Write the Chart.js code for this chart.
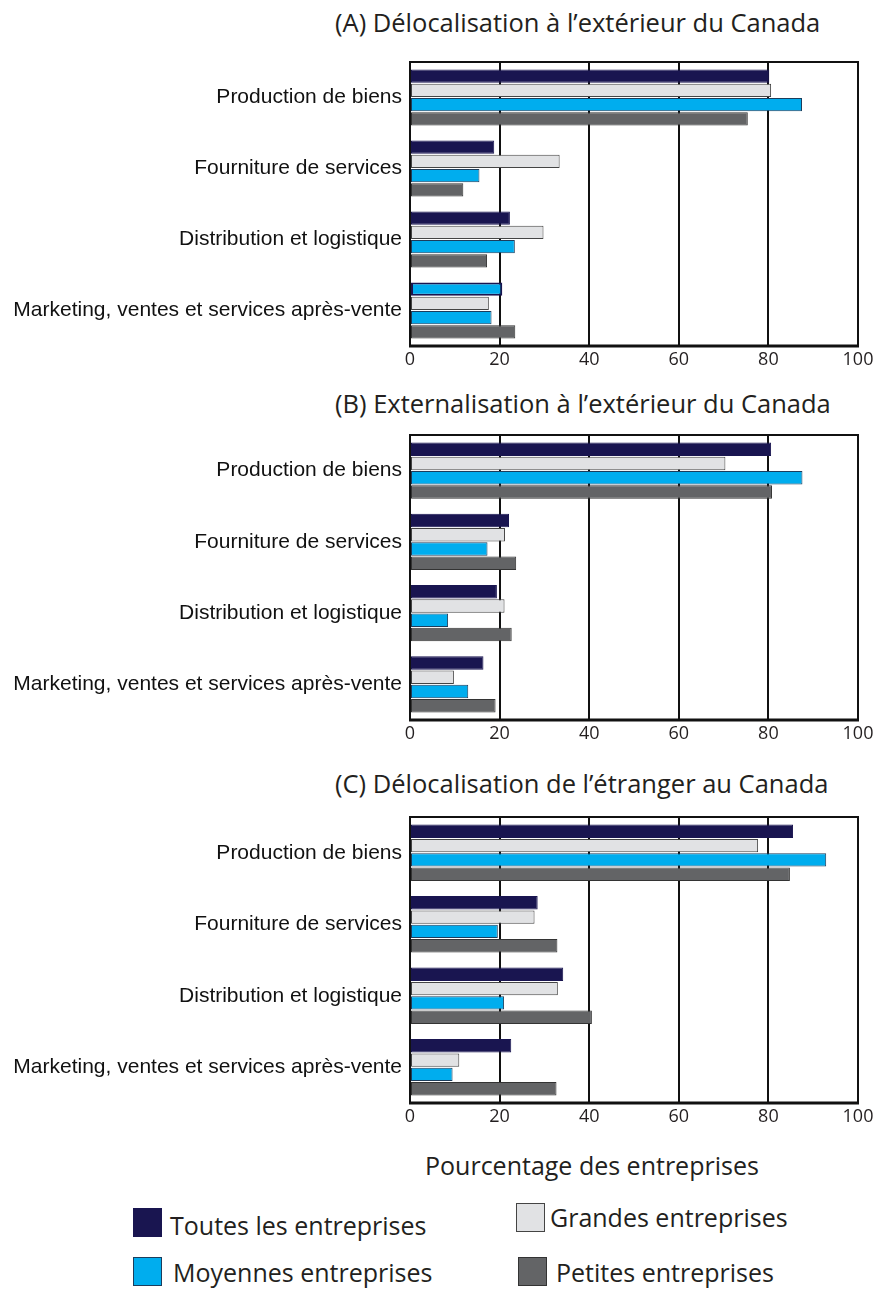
<!DOCTYPE html>
<html>
<head>
<meta charset="utf-8">
<script src="https://cdn.jsdelivr.net/npm/chart.js@4/dist/chart.umd.min.js"></script>
<style>
    body { margin: 0; background: #fff; }
    #wrap { position: relative; width: 877px; height: 1289px; }
    .box { position: absolute; left: 0; }
    .ttl { position: absolute; left: 335px; font-family: "Open Sans", sans-serif; font-size: 25.5px; color: #231f20; white-space: nowrap; line-height: 30px; }
    .leg { position: absolute; font-family: "Open Sans", sans-serif; font-size: 25px; color: #231f20; white-space: nowrap; line-height: 30px; }
    .sq { position: absolute; width: 29px; height: 29px; box-sizing: border-box; }
</style>
</head>
<body>
<div id="wrap">
    <div class="ttl" style="top:7px">(A) Délocalisation à l’extérieur du Canada</div>
    <div class="box" style="top:0px"><canvas id="chartA" width="877" height="380"></canvas></div>

    <div class="ttl" style="top:388px">(B) Externalisation à l’extérieur du Canada</div>
    <div class="box" style="top:380px"><canvas id="chartB" width="877" height="374"></canvas></div>

    <div class="ttl" style="top:768px">(C) Délocalisation de l’étranger au Canada</div>
    <div class="box" style="top:760px"><canvas id="chartC" width="877" height="377"></canvas></div>

    <div class="leg" style="left:425px;top:1150px">Pourcentage des entreprises</div>

    <div class="sq" style="left:133px;top:1208px;background:#191550;border:1px solid #191550"></div>
    <div class="leg" style="left:170px;top:1210px">Toutes les entreprises</div>
    <div class="sq" style="left:516px;top:1203px;background:#e1e2e4;border:1px solid #444"></div>
    <div class="leg" style="left:550px;top:1202px">Grandes entreprises</div>
    <div class="sq" style="left:133px;top:1257px;background:#00adee;border:1px solid #1c3d5c"></div>
    <div class="leg" style="left:173px;top:1257px">Moyennes entreprises</div>
    <div class="sq" style="left:518px;top:1257px;background:#636466;border:1px solid #333"></div>
    <div class="leg" style="left:556px;top:1257px">Petites entreprises</div>
</div>

<script>
// data ------
var categories = ['Production de biens', 'Fourniture de services', 'Distribution et logistique', 'Marketing, ventes et services après-vente'];
var seriesNames = ['Toutes les entreprises', 'Grandes entreprises', 'Moyennes entreprises', 'Petites entreprises'];
var xTicks = [0, 20, 40, 60, 80, 100];

// (A) délocalisation à l'extérieur
var delocToutes = [80.2, 18.8, 22.3, 20.6];
var delocGrandes = [80.6, 33.4, 29.8, 17.6];
var delocMoyennes = [87.5, 15.5, 23.4, 18.2];
var delocPetites = [75.4, 11.9, 17.2, 23.5];

// (B) externalisation à l'extérieur
var extToutes = [80.6, 22.1, 19.4, 16.4];
var extGrandes = [70.4, 21.2, 21.1, 9.8];
var extMoyennes = [87.6, 17.3, 8.5, 13.0];
var extPetites = [80.8, 23.7, 22.7, 19.1];

// (C) délocalisation de l'étranger au Canada
var relocToutes = [85.5, 28.5, 34.2, 22.6];
var relocGrandes = [77.7, 27.8, 33.0, 11.0];
var relocMoyennes = [92.9, 19.6, 21.0, 9.5];
var relocPetites = [84.8, 32.9, 40.6, 32.7];

var navy = '#191550', light = '#e1e2e4', blue = '#00adee', grey = '#636466';

// frame round the plot area
var frame = {
    id: 'frame',
    afterDraw: function (chart) {
        var a = chart.chartArea, ctx = chart.ctx;
        ctx.save();
        ctx.strokeStyle = '#111';
        ctx.lineWidth = 2;
        ctx.strokeRect(a.left, a.top, a.right - a.left, a.bottom - a.top);
        ctx.lineWidth = 3;
        ctx.beginPath();
        ctx.moveTo(a.left - 1, a.bottom);
        ctx.lineTo(a.right + 1, a.bottom);
        ctx.stroke();
        ctx.restore();
    }
};

function makeChart(id, values, padTop, toutesFill) {
    var fills = [toutesFill || navy, light, blue, grey];
    var borders = [navy, '#444', '#1c3d5c', '#333'];
    var datasets = values.map(function (v, i) {
        return {
            label: seriesNames[i],
            data: v,
            backgroundColor: fills[i],
            borderColor: borders[i],
            borderWidth: i == 0 && toutesFill ? [1, 1, 1, 2] : 1,
            borderSkipped: false,
            categoryPercentage: 0.8,
            barPercentage: 0.94
        };
    });
    return new Chart(document.getElementById(id), {
        type: 'bar',
        data: { labels: categories, datasets: datasets },
        options: {
            responsive: false,
            animation: false,
            indexAxis: 'y',
            layout: { padding: { top: padTop, right: 19, left: 0, bottom: 0 } },
            plugins: { legend: { display: false }, tooltip: { enabled: false } },
            scales: {
                x: {
                    min: 0,
                    max: 100,
                    afterBuildTicks: function (s) { s.ticks = xTicks.map(function (t) { return { value: t }; }); },
                    afterFit: function (s) { s.height = 34; },
                    grid: { color: '#111', lineWidth: 2, drawTicks: false },
                    border: { display: false },
                    ticks: { color: '#231f20', padding: 3, font: { family: 'Open Sans', size: 18 } }
                },
                y: {
                    afterFit: function (s) { s.width = 410; },
                    grid: { display: false },
                    border: { display: false },
                    ticks: { color: '#111', padding: 0, font: { family: 'Liberation Sans, Arial', size: 21 } }
                }
            }
        },
        plugins: [frame]
    });
}

// Chart One ------
var chartA = makeChart('chartA', [delocToutes, delocGrandes, delocMoyennes, delocPetites], 62,
    [navy, navy, navy, blue]);

// Chart Two ------
var chartB = makeChart('chartB', [extToutes, extGrandes, extMoyennes, extPetites], 55);

// Chart Three ------
var chartC = makeChart('chartC', [relocToutes, relocGrandes, relocMoyennes, relocPetites], 57);
</script>
</body>
</html>
